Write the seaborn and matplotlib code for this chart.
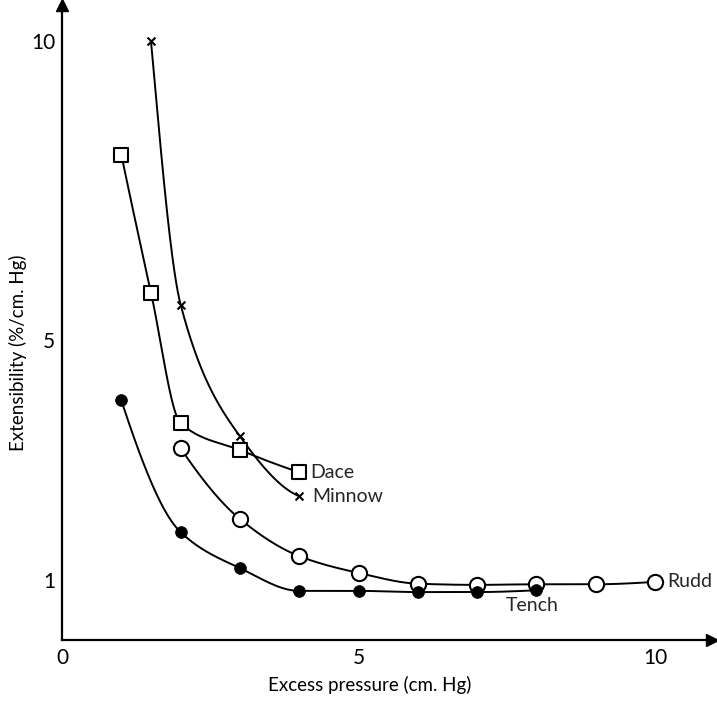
import numpy as np
import pandas as pd
import matplotlib
matplotlib.use("Agg")
import matplotlib.pyplot as plt
import seaborn as sns

# ---- data ----
minnow_x = [1.5, 2, 3, 4]
minnow_y = [10.0, 5.6, 3.4, 2.4]
dace_x = [1, 1.5, 2, 3, 4]
dace_y = [8.1, 5.8, 3.62, 3.17, 2.8]
rudd_x = [2, 3, 4, 5, 6, 7, 8, 9, 10]
rudd_y = [3.2, 2.02, 1.4, 1.12, 0.94, 0.92, 0.93, 0.93, 0.97]
tench_x = [1, 2, 3, 4, 5, 6, 7, 8]
tench_y = [4.0, 1.8, 1.2, 0.82, 0.82, 0.8, 0.8, 0.83]

x_ticks = [0, 5, 10]
y_ticks = [1, 5, 10]

sns.set_theme(style="white")
plt.rcParams["font.family"] = ["Lato", "DejaVu Sans"]


def pchip(x, y, n=300):
    """Shape-preserving cubic used only to draw a smooth line through the points."""
    x = np.asarray(x, float)
    y = np.asarray(y, float)
    h = np.diff(x)
    d = np.diff(y) / h
    m = np.zeros_like(y)
    for k in range(1, len(x) - 1):
        if d[k - 1] * d[k] <= 0:
            m[k] = 0
        else:
            w1 = 2 * h[k] + h[k - 1]
            w2 = h[k] + 2 * h[k - 1]
            m[k] = (w1 + w2) / (w1 / d[k - 1] + w2 / d[k])

    def edge(h0, h1, d0, d1):
        s = ((2 * h0 + h1) * d0 - h0 * d1) / (h0 + h1)
        if np.sign(s) != np.sign(d0):
            s = 0.0
        elif np.sign(d0) != np.sign(d1) and abs(s) > abs(3 * d0):
            s = 3 * d0
        return s

    if len(x) > 2:
        m[0] = edge(h[0], h[1], d[0], d[1])
        m[-1] = edge(h[-1], h[-2], d[-1], d[-2])
    else:
        m[:] = d[0]
    xs = np.linspace(x[0], x[-1], n)
    idx = np.clip(np.searchsorted(x, xs) - 1, 0, len(x) - 2)
    t = (xs - x[idx]) / h[idx]
    h00 = 2 * t**3 - 3 * t**2 + 1
    h10 = t**3 - 2 * t**2 + t
    h01 = -2 * t**3 + 3 * t**2
    h11 = t**3 - t**2
    ys = (h00 * y[idx] + h10 * h[idx] * m[idx] + h01 * y[idx + 1]
          + h11 * h[idx] * m[idx + 1])
    return xs, ys


fig = plt.figure(figsize=(7.17, 7.01), dpi=100)
ax = fig.add_axes([62 / 717, (701 - 640) / 701, 650 / 717, 635 / 701])

lw = 1.4
series = [
    ("Minnow", minnow_x, minnow_y, dict(marker="x", s=32, color="black", linewidths=1.5)),
    ("Dace", dace_x, dace_y, dict(marker="s", s=95, facecolor="white", edgecolor="black", linewidth=1.5)),
    ("Rudd", rudd_x, rudd_y, dict(marker="o", s=120, facecolor="white", edgecolor="black", linewidth=1.5)),
    ("Tench", tench_x, tench_y, dict(marker="o", s=70, color="black", edgecolor="black")),
]
for name, xs_, ys_, kw in series:
    sx, sy = pchip(xs_, ys_)
    ax.plot(sx, sy, color="black", lw=lw, zorder=2)
    df = pd.DataFrame({"x": xs_, "y": ys_})
    sns.scatterplot(data=df, x="x", y="y", ax=ax, zorder=3, legend=False, **kw)

ax.set_xlim(0, 10.96)
ax.set_ylim(0, 10.6)
ax.set_xticks(x_ticks)
ax.set_yticks(y_ticks)
ax.set_xticklabels([str(v) for v in x_ticks])
ax.set_yticklabels([str(v) for v in y_ticks])
ax.tick_params(axis="both", direction="in", length=10, width=1.5, color="black",
               labelsize=15, labelcolor="black", pad=5)
ax.tick_params(axis="x", pad=6)

for s in ["top", "right"]:
    ax.spines[s].set_visible(False)
for s in ["left", "bottom"]:
    ax.spines[s].set_color("black")
    ax.spines[s].set_linewidth(1.6)

ax.plot(1, 0, ">", color="black", ms=9, transform=ax.transAxes, clip_on=False)
ax.plot(0, 1, "^", color="black", ms=9, transform=ax.transAxes, clip_on=False)

ax.set_xlabel("Excess pressure (cm. Hg)", fontsize=13.5, color="black")
ax.set_ylabel("Extensibility (%/cm. Hg)", fontsize=13.5, color="black")
ax.xaxis.set_label_coords(0.474, -0.057)
ax.yaxis.set_label_coords(-0.054, 0.452)

fs = 14
ax.text(4.18, dace_y[-1], "Dace", fontsize=fs, va="center", ha="left")
ax.text(4.22, minnow_y[-1], "Minnow", fontsize=fs, va="center", ha="left")
ax.text(10.2, rudd_y[-1], "Rudd", fontsize=fs, va="center", ha="left")
ax.text(7.48, 0.57, "Tench", fontsize=fs, va="center", ha="left")

ax.grid(False)
fig.savefig("out.png", dpi=100)
